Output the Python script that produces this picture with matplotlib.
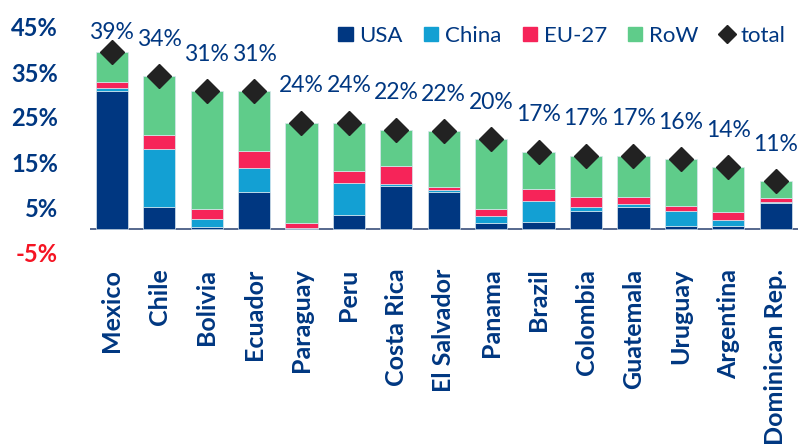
import numpy as np
import matplotlib.pyplot as plt
from matplotlib.patches import Patch
from matplotlib.lines import Line2D

# ___________ data (share of exports, %) _______________
countries = ['Mexico', 'Chile', 'Bolivia', 'Ecuador', 'Paraguay', 'Peru', 'Costa Rica',
             'El Salvador', 'Panama', 'Brazil', 'Colombia', 'Guatemala', 'Uruguay',
             'Argentina', 'Dominican Rep.']
usa = [30.7, 5.0, 0.6, 8.3, 0.3, 3.2, 9.6, 8.3, 1.5, 1.6, 4.2, 5.1, 0.7, 0.7, 5.8]
china = [0.8, 12.9, 1.8, 5.4, 0.1, 7.2, 0.6, 0.4, 1.6, 4.8, 0.8, 0.5, 3.4, 1.4, 0.4]
eu27 = [1.2, 3.1, 2.2, 3.7, 1.0, 2.6, 4.0, 0.7, 1.5, 2.6, 2.2, 1.6, 1.2, 1.7, 0.9]
row = [6.7, 13.1, 26.1, 13.3, 22.3, 10.7, 8.0, 12.5, 15.5, 8.3, 9.2, 9.2, 10.3, 10.0, 3.6]
total = [39.4, 34.1, 30.7, 30.7, 23.7, 23.7, 22.2, 21.9, 20.1, 17.3, 16.4, 16.4, 15.6, 13.8, 10.7]
total_labels = ['39%', '34%', '31%', '31%', '24%', '24%', '22%', '22%', '20%', '17%',
                '17%', '17%', '16%', '14%', '11%']
yticks = [-5, 5, 15, 25, 35, 45]

NAVY = '#003781'
colors = {'USA': NAVY, 'China': '#13A0D3', 'EU-27': '#F62459', 'RoW': '#5FCC8A'}

plt.rcParams['font.family'] = ['Lato', 'DejaVu Sans']

fig = plt.figure(figsize=(7.98, 4.48), dpi=100)
ax = fig.add_axes([90 / 798, (448 - 252) / 448, 708 / 798, 225 / 448])

x = np.arange(len(countries))
w = 0.68
bottom = np.zeros(len(countries))
for name, vals in [('USA', usa), ('China', china), ('EU-27', eu27), ('RoW', row)]:
    ax.bar(x, vals, w, bottom=bottom, color=colors[name], edgecolor='#d8e6ee',
           linewidth=0.5, zorder=2)
    bottom += np.array(vals)

ax.plot(x, total, 'D', color='#222222', markersize=12.5, zorder=3, clip_on=False)

for i, (t, lab) in enumerate(zip(total, total_labels)):
    ax.text(x[i], min(t + 8.2, 43.8), lab, ha='center', va='center', color=NAVY,
            fontsize=16.5, clip_on=False)

ax.axhline(0, color='#3a4f7a', lw=1.2, zorder=1)

ax.set_xlim(-0.46, 14.47)
ax.set_ylim(-5, 45)
ax.set_yticks(yticks)
ax.set_yticklabels([f'{v}%' for v in yticks], fontsize=17, fontweight='bold')
for lbl, v in zip(ax.get_yticklabels(), yticks):
    lbl.set_color('#F51423' if v < 0 else NAVY)
ax.set_xticks(x)
ax.set_xticklabels(countries, rotation=90, fontsize=18, fontweight='bold', color=NAVY)
ax.tick_params(axis='y', length=0, pad=23)
ax.tick_params(axis='x', length=0, pad=12)
for s in ax.spines.values():
    s.set_visible(False)

handles = [Patch(color=colors[k]) for k in colors]
handles.append(Line2D([], [], marker='D', color='#222222', linestyle='none', markersize=9))
leg = ax.legend(handles, list(colors) + ['total'], ncol=5, frameon=False,
                loc='upper right', bbox_to_anchor=(0.995, 1.045), fontsize=16,
                handlelength=0.65, handleheight=0.65, handletextpad=0.3,
                columnspacing=0.95, borderaxespad=0)
for t in leg.get_texts():
    t.set_color(NAVY)

fig.savefig('out.png', dpi=100)
